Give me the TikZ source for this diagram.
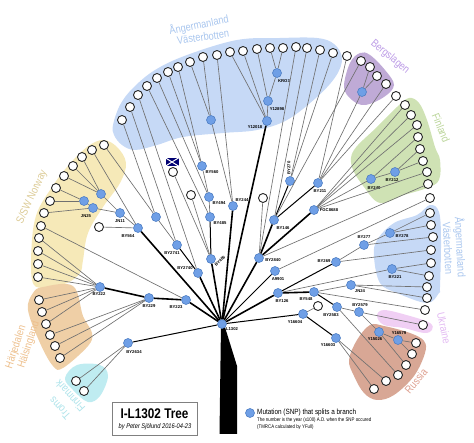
\documentclass[tikz,border=0pt]{standalone}
\usepackage{fontspec}
\setmainfont{Liberation Sans}
\newfontfamily\condfont[FakeStretch=0.84]{Liberation Sans}
\usetikzlibrary{positioning}
\definecolor{blobblue}{HTML}{C6D9F6}
\definecolor{blobyellow}{HTML}{F6E9B8}
\definecolor{bloborange}{HTML}{EFCFA6}
\definecolor{blobcyan}{HTML}{BFECF1}
\definecolor{blobgreen}{HTML}{CFE2B4}
\definecolor{blobpurple}{HTML}{BFAAD6}
\definecolor{blobpink}{HTML}{F0CFF4}
\definecolor{blobrust}{HTML}{D8A795}
\definecolor{snpfill}{HTML}{6F9FE6}
\definecolor{snpline}{HTML}{4F7FC4}
\definecolor{twigcol}{HTML}{707070}
\definecolor{txtblue}{HTML}{A9C6EE}
\definecolor{txtyellow}{HTML}{DCCB96}
\definecolor{txtorange}{HTML}{EDBF8C}
\definecolor{txtcyan}{HTML}{ADE3EA}
\definecolor{txtgreen}{HTML}{BBD59A}
\definecolor{txtpurple}{HTML}{BC9BE6}
\definecolor{txtpink}{HTML}{E2B9F2}
\definecolor{txtrust}{HTML}{DD9F8F}

\begin{document}
\begin{tikzpicture}[x=1pt, y=-1pt,
    leaf/.style={circle, draw=black!85, fill=white, line width=0.9pt, minimum size=9pt, inner sep=0pt},
    snp/.style={circle, draw=snpline, fill=snpfill, line width=0.6pt, minimum size=9pt, inner sep=0pt},
    snplab/.style={font=\bfseries\fontsize{4.2}{5}\selectfont, inner sep=0pt},
    twig/.style={draw=twigcol, line width=0.65pt},
    bough/.style={draw=black, line width=1pt},
    limb/.style={draw=black, line width=1.6pt},
    region/.style={font=\condfont\fontsize{11}{11}\selectfont, inner sep=0pt}]
\useasboundingbox (0,0) rectangle (474,443);

% Coloured regions behind the tree.
\fill[blobblue] plot[smooth cycle, tension=0.6] coordinates {(113,125) (120,105) (133,88) (155,70) (187,55) (237,40) (280,38) (317,38) (334,44) (342,58) (336,76) (317,97) (287,120) (257,130) (223,133) (183,137) (157,145) (135,150) (122,145) (114,135)};
\fill[blobpurple] plot[smooth cycle, tension=0.6] coordinates {(360,53) (370,55) (385,70) (394,85) (384,97) (365,105) (352,100) (344,87) (350,63)};
\fill[blobgreen] plot[smooth cycle, tension=0.6] coordinates {(409,98) (419,103) (427,120) (435,147) (440,160) (439,180) (427,188) (404,195) (380,203) (364,187) (352,167) (354,150) (377,127) (397,107)};
\fill[blobblue] plot[smooth cycle, tension=0.6] coordinates {(430,205) (439,212) (441,240) (440,287) (439,293) (427,303) (397,293) (380,283) (374,257) (377,240) (394,223) (417,215)};
\fill[blobpink] plot[smooth cycle, tension=0.6] coordinates {(377,316) (384,310) (410,316) (430,323) (432,330) (424,333) (404,328) (384,325)};
\fill[blobrust] plot[smooth cycle, tension=0.6] coordinates {(370,325) (384,326) (410,333) (424,341) (425,353) (414,376) (394,395) (377,400) (364,393) (354,376) (349,360) (357,340)};
\fill[blobyellow] plot[smooth cycle, tension=0.6] coordinates {(103,140) (117,147) (126,163) (120,183) (103,207) (88,233) (83,260) (80,273) (67,283) (43,288) (32,280) (32,240) (37,213) (50,190) (67,167) (87,147)};
\fill[bloborange] plot[smooth cycle, tension=0.6] coordinates {(33,293) (43,287) (73,286) (83,316) (92,333) (88,346) (63,368) (53,366) (40,343) (28,310)};
\fill[blobcyan] plot[smooth cycle, tension=0.6] coordinates {(65,378) (77,365) (100,365) (108,376) (100,396) (88,402) (73,390)};

% Trunk.
\fill[black] (221,324) -- (219.5,434) -- (237,434) -- (237,366) -- (224,324) -- cycle;

% Leaves, clockwise from the upper left.
\foreach \nm/\x/\y in {t1/122/120,t2/130/107,t3/138/95,t4/147/86,t5/157/78,t6/168/72,t7/178/67,t8/190/62,t9/203/57,t10/217/55,t11/230/52,t12/243/51,t13/257/49,t14/270/48,t15/283/48,t16/296/47,t17/307/48,t18/320/50,t19/333/53,t20/347/56,
    b1/361/61,b2/370/67,b3/377/76,b4/386/84,b5/396/96,
    f1/405/105,f2/411/115,f3/417/125,f4/418/137,f5/420/149,f6/423/161,f7/427/172,f8/428/184,f9/430/198,
    v1/430/213,v2/431/225,v3/433/237,v4/431/250,v5/431/263,v6/429/276,v7/427/287,v8/427/298,v9/425/310,
    u1/423/325,r1/416/343,r2/412/354,r3/406/365,r4/398/375,r5/386/381,r6/374/389,
    n1/104/145,n2/92/150,n3/82/157,n4/73/166,n5/64/176,n6/56/188,n7/50/201,n8/44/213,n9/41/226,n10/39/238,n11/38/251,n12/38/264,n13/38/277,
    h1/39/300,h2/42/312,h3/46/324,h4/50/335,h5/55/346,h6/60/358,
    m1/76/381,m2/84/391,
    w1/99/227,w2/173/172,w3/191/195,w4/263/198,w5/318/306}{
    \node[leaf] (\nm) at (\x,\y) {};
}

% Mutations with their names.
\foreach \nm/\x/\y/\lx/\ly/\rot in {L1302/222/324/232/329/0,BY2634/128/343/134/352/0,BY229/149/298/149/306/0,BY223/186/300/176/307/0,BY222/100/287/99/294/0,
    BY2741/177/245/172/253/0,BY2740/198/273/185/268/0,BY486/211/259/220/261/45,BY485/210/217/220/223/0,BY494/209/197/219/203/0,BY560/202/166/212/172/0,
    BY564/138/228/128/236/0,JN11/120/213/120/221/0,JN25/93/208/86/216/0,BY244/233/206/242/200/0,
    Y12018/267/121/255/127/0,Y12898/268/101/277/109/0,KRO3/277/73/284/81/0,
    BY2840/259/258/273/260/0,BY146/274/220/283/228/0,BY270/290/181/289/168/90,BY211/318/183/320/191/0,FGC8688/314/210/329/210/0,BY240/371/179/374/188/0,BY212/395/172/392/180/0,
    BY278/390/233/402/236/0,BY277/364/245/364/237/0,BY269/336/262/324/261/0,BY221/392/269/395/277/0,A9901/275/271/278/279/0,JN24/351/285/360/291/0,
    BY126/278/293/282/301/0,BY548/314/292/306/299/0,BY2583/337/307/331/315/0,BY2579/359/312/360/305/0,Y15026/379/332/375/339/0,Y16579/398/340/399/333/0,Y16603/336/338/328/345/0,Y16604/303/314/295/322/0}{
    \node[snp] (\nm) at (\x,\y) {};
    \node[snplab, rotate=\rot] (lab\nm) at (\lx,\ly) {\nm};
}
% Mutations without a name.
\node[snp] (sA) at (211,120) {};
\node[snp] (sB) at (362,92) {};
\node[snp] (sC) at (156,217) {};
\node[snp] (sD) at (101,194) {};
\node[snp] (sE) at (84,201) {};

% Branches.
\foreach \a/\b in {L1302/BY223,BY223/BY229,BY229/BY222,L1302/BY564,L1302/BY2740,L1302/BY486,L1302/BY244,L1302/Y12018,L1302/BY2840,L1302/BY126,BY2840/BY146,BY2840/FGC8688,BY126/BY548}{
    \draw[limb] (\a) -- (\b);
}
\foreach \a/\b in {L1302/BY2634,L1302/A9901,L1302/Y16604,Y16604/Y16603,BY2740/BY2741,BY486/BY485,BY146/BY270,BY146/BY211,BY126/BY269,BY548/BY2583}{
    \draw[bough] (\a) -- (\b);
}
\foreach \a/\b in {t1/sC,sC/BY2741,t2/BY2741,t3/BY2740,t4/BY485,t5/BY494,t6/BY560,t7/BY560,BY560/BY494,BY494/BY485,t8/sA,t9/sA,sA/BY244,t10/BY244,t11/Y12018,t12/Y12018,t13/Y12898,t14/KRO3,t15/KRO3,KRO3/Y12898,Y12898/Y12018,
    t16/BY2840,t17/BY146,t18/BY270,t19/BY270,t20/BY211,b1/BY146,b2/sB,b3/sB,sB/BY211,b4/BY211,b5/BY211,
    f1/FGC8688,f2/FGC8688,f3/FGC8688,f7/FGC8688,BY240/FGC8688,f4/BY240,BY212/BY240,f5/BY212,f6/BY212,f8/BY2840,f9/A9901,w4/BY2840,
    v1/BY278,v2/BY278,BY278/BY277,v3/BY277,BY277/BY269,v4/BY269,BY221/BY126,v5/BY221,v6/BY221,JN24/BY548,v7/JN24,v8/JN24,v9/BY548,
    BY2579/BY2583,u1/BY2579,Y15026/BY2579,Y16579/Y15026,r1/Y16579,r2/Y16579,r3/Y15026,r4/BY2583,r5/Y16603,r6/Y16603,w5/Y16604,
    w2/BY486,w3/BY486,n1/sC,n2/BY564,w1/BY564,JN11/BY564,sD/JN11,n3/sD,n4/sD,n5/sD,JN25/JN11,sE/JN25,n6/sE,n7/sE,n8/JN25,n9/BY223,
    n10/BY222,n11/BY222,n12/BY222,n13/BY222,h1/BY222,h2/BY222,h3/BY222,h4/BY229,h5/BY229,h6/BY229,m1/BY2634,m2/BY2634}{
    \draw[twig] (\a) -- (\b);
}

% Region names.
\node[region, text=txtblue, rotate=11] (angA) at (199,25) {Ångermanland};
\node[region, text=txtblue, rotate=8] (vasA) at (203,37) {Västerbotten};
\node[region, text=txtpurple, rotate=-40] (berg) at (390,57) {Bergslagen};
\node[region, text=txtgreen, rotate=-68] (finl) at (441,128) {Finland};
\node[region, text=txtblue, rotate=-87] (angB) at (460,247) {Ångermanland};
\node[region, text=txtblue, rotate=-87] (vasB) at (448,248) {Västerbotten};
\node[region, text=txtpink, rotate=-78] (ukr) at (444,328) {Ukraine};
\node[region, text=txtrust, rotate=50] (rus) at (416,381) {Russia};
\node[region, text=txtyellow, rotate=65] (norw) at (32,197) {S/SW Norway};
\node[region, text=txtorange, rotate=72] (harj) at (16,347) {Härjedalen};
\node[region, text=txtorange, rotate=72] (hals) at (29,345) {Hälsingland};
\node[region, text=txtcyan, rotate=132] (finn) at (70,396) {Finnmark};
\node[region, text=txtcyan, rotate=132] (trom) at (60,408) {Troms};

% Flag over its leaf.
\node[rectangle, fill=blue!45!black, minimum width=13pt, minimum height=8pt, inner sep=0pt] (flag) at (172,162) {};
\draw[white, line width=1pt] (flag.north west) -- (flag.south east);
\draw[white, line width=1pt] (flag.north east) -- (flag.south west);

% Title box and legend.
\node[draw=gray, line width=0.6pt, minimum width=85pt, minimum height=33pt, inner sep=0pt] (titlebox) at (154.5,418.5) {};
\node[font=\condfont\bfseries\fontsize{14}{15}\selectfont, inner sep=0pt] (titletxt) at (154.5,413.5) {I-L1302 Tree};
\node[font=\condfont\itshape\fontsize{6.8}{7}\selectfont, inner sep=0pt] (bytxt) at (155,427) {by Peter Sjölund 2016-04-23};
\node[snp] (legdot) at (250,413) {};
\node[font=\condfont\fontsize{7.6}{8}\selectfont, anchor=west, inner sep=0pt] (legA) at (257,413) {Mutation (SNP) that splits a branch};
\node[font=\condfont\fontsize{5.2}{6}\selectfont, anchor=west, inner sep=0pt] (legB) at (257,420.5) {The number is the year (x100) A.D. when the SNP occured};
\node[font=\condfont\fontsize{5.2}{6}\selectfont, anchor=west, inner sep=0pt] (legC) at (257,427) {(TMRCA calculated by YFull)};
\end{tikzpicture}
\end{document}
